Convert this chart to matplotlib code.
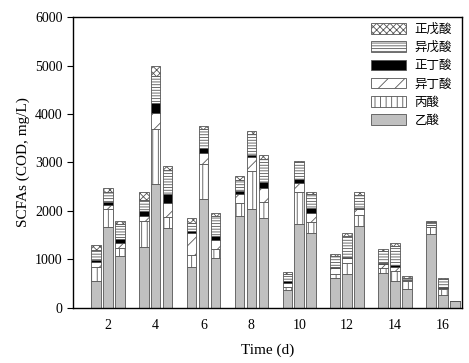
import numpy as np
import matplotlib
matplotlib.use("Agg")
import matplotlib.pyplot as plt

plt.rcParams['font.family'] = ['Liberation Serif', 'Noto Sans CJK SC']
plt.rcParams['hatch.linewidth'] = 0.6

days = [2, 4, 6, 8, 10, 12, 14, 16]
acids = ['乙酸', '丙酸', '异丁酸', '正丁酸', '异戊酸', '正戊酸']

# each acid: values for bar 1, 2, 3 at each day (mg COD/L)
acetic = [[560, 1660, 1065], [1265, 2545, 1640], [850, 2240, 1030], [1885, 2035, 1850],
          [370, 1725, 1535], [625, 695, 1690], [715, 555, 385], [1520, 270, 150]]
propionic = [[290, 370, 175], [525, 1135, 240], [240, 730, 185], [275, 790, 340],
             [70, 665, 230], [75, 240, 230], [105, 195, 160], [155, 120, 0]]
isobutyric = [[95, 90, 105], [105, 340, 275], [460, 235, 175], [195, 280, 275],
              [70, 195, 200], [120, 90, 115], [85, 100, 20], [25, 20, 0]]
butyric = [[35, 65, 70], [110, 210, 190], [25, 100, 100], [65, 55, 140],
           [35, 75, 90], [20, 20, 20], [15, 25, 10], [10, 15, 0]]
isovaleric = [[215, 210, 315], [230, 545, 495], [170, 380, 395], [220, 430, 465],
              [155, 345, 290], [230, 445, 275], [255, 410, 50], [65, 165, 0]]
valeric = [[95, 85, 70], [155, 210, 85], [100, 75, 65], [70, 60, 80],
           [35, 35, 55], [45, 50, 50], [40, 50, 30], [25, 35, 0]]

series = [acetic, propionic, isobutyric, butyric, isovaleric, valeric]
faces = ['#c0c0c0', 'white', 'white', 'black', 'white', 'white']
hatches = [None, '|||', '//', None, '------', 'xxxxx']

fig = plt.figure(figsize=(4.69, 3.63), dpi=100)
ax = fig.add_axes([0.156, 0.152, 0.829, 0.801])

x = np.array(days, dtype=float)
width = 0.4
offsets = [-0.5, 0.0, 0.5]
handles = []
for j, off in enumerate(offsets):
    bottom = np.zeros(len(days))
    for k, s in enumerate(series):
        vals = np.array([row[j] for row in s], dtype=float)
        b = ax.bar(x + off, vals, width, bottom=bottom, color=faces[k],
                   edgecolor='#555555', linewidth=0.6, hatch=hatches[k],
                   label=acids[k] if j == 0 else None)
        if j == 0:
            handles.append(b)
        bottom += vals

ax.set_xlim(0.55, 16.8)
ax.set_ylim(0, 6000)
ax.set_xticks(days)
ax.set_yticks(range(0, 6001, 1000))
ax.tick_params(axis='x', length=0, labelsize=10, pad=8)
ax.tick_params(axis='y', direction='out', length=4, labelsize=10)
ax.set_xlabel('Time (d)', fontsize=11, labelpad=8)
ax.set_ylabel('SCFAs (COD, mg/L)', fontsize=11)
for sp in ax.spines.values():
    sp.set_linewidth(1.0)

leg = ax.legend(handles[::-1], acids[::-1], loc='upper right',
                bbox_to_anchor=(1.0, 1.015), handlelength=2.8, handleheight=0.9,
                frameon=False, labelspacing=0.42, borderpad=0.3,
                handletextpad=0.7, prop={'family': ['Noto Sans CJK SC'], 'size': 9})

fig.savefig('out.png', dpi=100)
